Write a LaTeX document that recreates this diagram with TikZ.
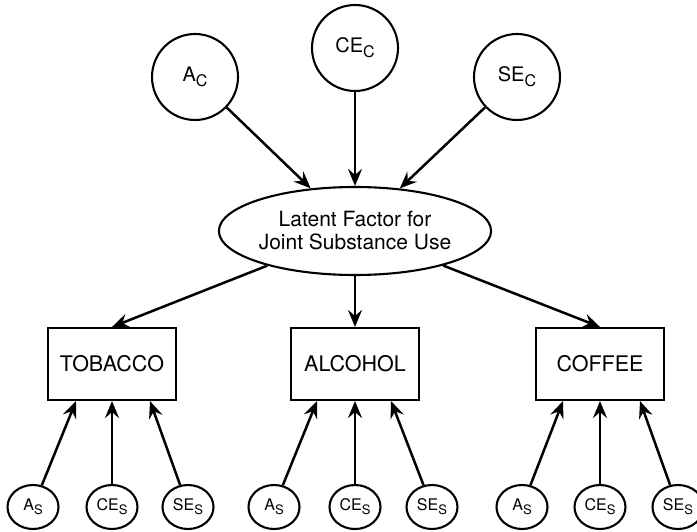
\documentclass[tikz,border=0pt]{standalone}
\usepackage{fontspec}
\setmainfont{TeX Gyre Heros}
\usetikzlibrary{arrows.meta,shapes.geometric}

\newcommand{\bigsub}[1]{\raisebox{-5pt}{\fontsize{16}{16}\selectfont #1}}
\newcommand{\smallsub}[1]{\raisebox{-4pt}{\fontsize{13}{13}\selectfont #1}}

\begin{document}
\begin{tikzpicture}[x=1pt, y=-1pt,
	topvar/.style={circle, draw, line width=2.1pt, minimum size=86pt, inner sep=0pt, font=\fontsize{20}{22}\selectfont},
	latent/.style={ellipse, draw, line width=2.1pt, minimum width=242pt, minimum height=88pt, inner sep=0pt, align=center, font=\fontsize{21}{23}\selectfont},
	measure/.style={rectangle, draw, line width=2.1pt, minimum width=128pt, minimum height=72pt, font=\fontsize{21.5}{24}\selectfont},
	resid/.style={ellipse, draw, line width=2.1pt, minimum width=51pt, minimum height=44pt, inner sep=0pt, font=\fontsize{16}{18}\selectfont},
	link/.style={-{Stealth[length=17pt, width=14pt, inset=6pt]}, line width=2.5pt}]
			\useasboundingbox (0,0) rectangle (697,532);
			% common factors
			\node[topvar] (ac) at (195,77) {A\bigsub{C}};
			\node[topvar] (cec) at (355,48) {CE\bigsub{C}};
			\node[topvar] (sec) at (517,77) {SE\bigsub{C}};
			\node[latent] (lat) at (355,231) {Latent Factor for\\Joint Substance Use};
			% substances
			\node[measure] (tob) at (112,364) {TOBACCO};
			\node[measure] (alc) at (355,364) {ALCOHOL};
			\node[measure] (cof) at (600,364) {COFFEE};
			% specific factors
			\node[resid] (as1) at (33,507) {A\smallsub{S}};
			\node[resid] (ces1) at (112,507) {CE\smallsub{S}};
			\node[resid] (ses1) at (188,507) {SE\smallsub{S}};
			\node[resid] (as2) at (274,507) {A\smallsub{S}};
			\node[resid] (ces2) at (355,507) {CE\smallsub{S}};
			\node[resid] (ses2) at (432,507) {SE\smallsub{S}};
			\node[resid] (as3) at (522,507) {A\smallsub{S}};
			\node[resid] (ces3) at (600,507) {CE\smallsub{S}};
			\node[resid] (ses3) at (678,507) {SE\smallsub{S}};
			% arrows
			\draw[link] (ac) -- (lat);
			\draw[link] (cec) -- (lat);
			\draw[link] (sec) -- (lat);
			\draw[link] (lat) -- (tob.north);
			\draw[link] (lat) -- (alc);
			\draw[link] (lat) -- (cof.north);
			\draw[link] (as1) -- ([xshift=-36pt]tob.south);
			\draw[link] (ces1) -- (tob);
			\draw[link] (ses1) -- ([xshift=38pt]tob.south);
			\draw[link] (as2) -- ([xshift=-38pt]alc.south);
			\draw[link] (ces2) -- (alc);
			\draw[link] (ses2) -- ([xshift=36pt]alc.south);
			\draw[link] (as3) -- ([xshift=-37pt]cof.south);
			\draw[link] (ces3) -- (cof);
			\draw[link] (ses3) -- ([xshift=40pt]cof.south);
		\end{tikzpicture}
\end{document}
